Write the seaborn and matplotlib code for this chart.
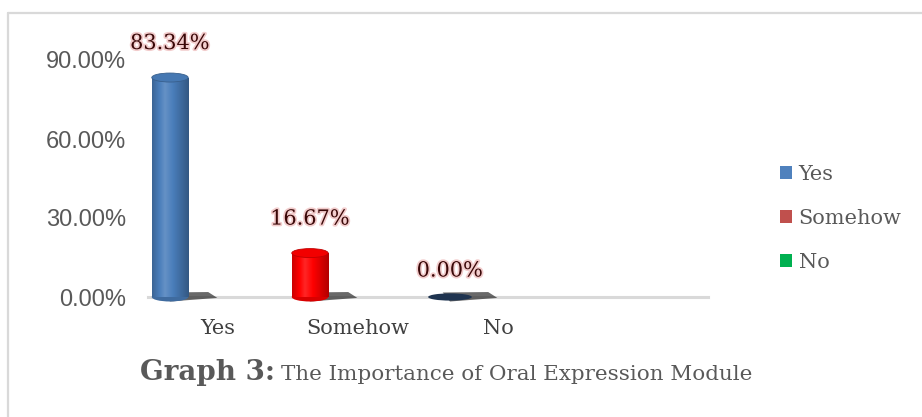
import numpy as np
import matplotlib
matplotlib.use("Agg")
import matplotlib.pyplot as plt
import matplotlib.patheffects as pe
from matplotlib.patches import Ellipse, Polygon, Patch
from matplotlib.lines import Line2D
from matplotlib.transforms import ScaledTranslation
import seaborn as sns

# Survey answers and their shares (%)
categories = ["Yes", "Somehow", "No"]
values = [83.34, 16.67, 0.00]
y_ticks = [0, 30, 60, 90]
bar_colors = ["#4A7EBB", "#FF0000", "#00B050"]
legend_colors = ["#4F81BD", "#C0504D", "#00B050"]
title_bold = "Graph 3:"
title_rest = "The Importance of Oral Expression Module"

sns.set_theme(style="white")
serif = ["DejaVu Serif"]
sans = ["Liberation Sans", "DejaVu Sans"]

fig = plt.figure(figsize=(9.22, 4.17), dpi=100)
ax = fig.add_axes([148 / 922, 120 / 417, 560 / 922, 237 / 417])

sns.barplot(x=categories, y=values, hue=categories, order=categories,
            hue_order=categories, palette=bar_colors, width=0.26,
            legend=False, saturation=1, ax=ax)

ax.set_xlim(-0.157, 3.843)
ax.set_ylim(0, 90)

# pixel -> data scale for decorations
px_y = 90 / 237.0


def shade(color, f):
    c = np.array(matplotlib.colors.to_rgb(color))
    if f >= 1:
        return c + (1 - c) * (f - 1)
    return c * f


# Turn the flat bars into shaded cylinders
for p, col in zip(ax.patches, bar_colors):
    x0, w, h = p.get_x(), p.get_width(), p.get_height()
    xc = x0 + w / 2
    eh = 9 * px_y
    # shadow on the floor, to the right of the cylinder
    shadow = Polygon([[xc, -eh * 0.5], [xc + w * 1.3, -eh * 0.1],
                      [xc + w * 1.05, eh * 0.55], [xc - w * 0.2, eh * 0.5]],
                     closed=True, facecolor="#2a2a2a", alpha=0.7,
                     edgecolor="none", zorder=1, clip_on=False)
    ax.add_patch(shadow)
    if h > 0:
        t = np.linspace(0, 1, 64)
        prof = np.interp(t, [0, 0.35, 1], [0.8, 1.15, 0.7])
        grad = np.array([shade(col, f) for f in prof])[None, :, :]
        p.set_facecolor("none")
        p.set_edgecolor("none")
        im = ax.imshow(grad, extent=[x0, x0 + w, 0, h], aspect="auto",
                       zorder=3, interpolation="bilinear")
        im.set_clip_path(p)
        ax.add_patch(Ellipse((xc, 0), w, eh, facecolor=shade(col, 0.85),
                             edgecolor="none", zorder=2.9, clip_on=False))
        ax.add_patch(Ellipse((xc, h), w, eh, facecolor=shade(col, 0.95),
                             edgecolor=shade(col, 0.75), lw=0.6, zorder=4,
                             clip_on=False))
        gap = 34
    else:
        ax.add_patch(Ellipse((xc, h), w * 1.2, eh * 0.8, facecolor="#1F3450",
                             edgecolor="none", zorder=4, clip_on=False))
        gap = 26
    ax.text(xc, h + gap * px_y, f"{h:.2f}%", ha="center", va="center",
            fontsize=15, family=serif, color="#3A0808", zorder=6,
            clip_on=False,
            path_effects=[pe.withStroke(linewidth=2.5, foreground="#F2CCCC")])

ax.set_xlim(-0.157, 3.843)
ax.set_ylim(0, 90)

# axes styling
for s in ["top", "right", "left"]:
    ax.spines[s].set_visible(False)
ax.spines["bottom"].set_color("#D9D9D9")
ax.spines["bottom"].set_linewidth(2.2)
ax.spines["bottom"].set_zorder(0.5)
ax.set_yticks(y_ticks)
ax.set_yticklabels([f"{v:.2f}%" for v in y_ticks])
ax.tick_params(axis="y", length=0, pad=16, labelsize=17, labelcolor="#595959")
for lab in ax.get_yticklabels():
    lab.set_family(sans)
ax.set_xticks(range(len(categories)))
ax.set_xticklabels(categories)
ax.tick_params(axis="x", length=0, pad=16, labelsize=15, labelcolor="#404040")
shift = ScaledTranslation(0.48, 0, fig.dpi_scale_trans)
for lab in ax.get_xticklabels():
    lab.set_family(serif)
    lab.set_transform(lab.get_transform() + shift)
ax.set_xlabel("")
ax.set_ylabel("")
ax.grid(False)

# legend
handles = [Patch(facecolor=c, edgecolor="none") for c in legend_colors]
leg = fig.legend(handles, categories, loc="center left",
                 bbox_to_anchor=(761 / 922, 1 - 218 / 417), frameon=False,
                 handlelength=0.6, handleheight=0.6, handletextpad=0.3,
                 labelspacing=1.2, prop={"family": serif, "size": 15})
for t in leg.get_texts():
    t.set_color("#595959")

# caption
fig.canvas.draw()
t1 = fig.text(140 / 922, 1 - 372 / 417, title_bold, fontsize=20,
              fontweight="bold", family=serif, color="#595959", va="center",
              ha="left")
r = fig.canvas.get_renderer()
bb = t1.get_window_extent(r)
fig.text((bb.x1 + 6) / 922, 1 - 374 / 417, title_rest, fontsize=15.4,
         family=serif, color="#595959", va="center", ha="left")

# thin frame around the chart area
fig.add_artist(Line2D([8 / 922, 1], [1 - 13 / 417] * 2, color="#D9D9D9",
                      lw=1.6, transform=fig.transFigure))
fig.add_artist(Line2D([8 / 922] * 2, [0, 1 - 13 / 417], color="#D9D9D9",
                      lw=1.6, transform=fig.transFigure))

fig.savefig("out.png", dpi=100, facecolor="white")
